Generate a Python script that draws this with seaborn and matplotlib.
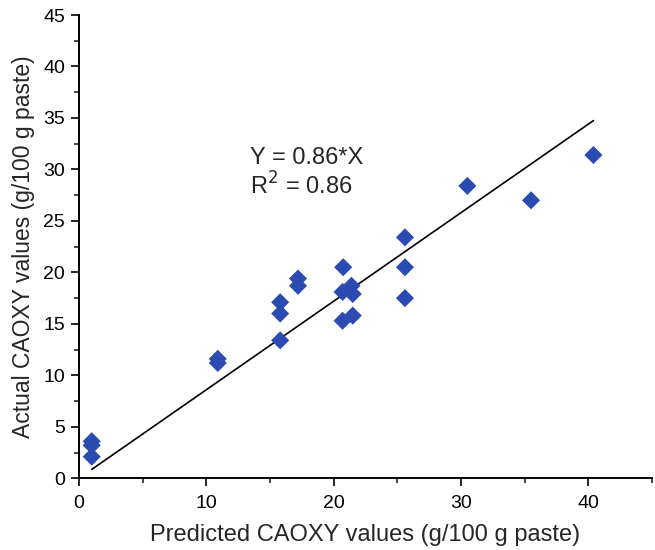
import matplotlib
matplotlib.use("Agg")
import matplotlib.pyplot as plt
import seaborn as sns
import pandas as pd
from matplotlib.ticker import MultipleLocator

sns.set_style("ticks")
plt.rcParams['font.family'] = ['Liberation Sans', 'DejaVu Sans']

# Data
predicted = [1.0, 1.0, 1.0, 10.9, 10.9, 15.8, 15.8, 15.8, 17.2, 17.2,
             20.75, 20.7, 20.7, 21.4, 21.5, 21.5, 25.6, 25.6, 25.6,
             30.5, 35.5, 40.4]
actual = [3.6, 3.2, 2.1, 11.6, 11.2, 17.1, 16.0, 13.4, 19.4, 18.7,
          20.5, 18.1, 15.3, 18.7, 17.9, 15.8, 23.4, 20.5, 17.5,
          28.4, 27.0, 31.4]
slope = 0.86
r2 = 0.86
fit_x = [1.0, 40.4]

df = pd.DataFrame({"predicted": predicted, "actual": actual})
fit_df = pd.DataFrame({"x": fit_x, "y": [slope * v for v in fit_x]})

fig = plt.figure(figsize=(6.55, 5.5), dpi=100)
ax = fig.add_axes([0.1206, 0.1304, 0.8748, 0.8423])

sns.lineplot(data=fit_df, x="x", y="y", ax=ax, color="black", linewidth=1.2, zorder=2)
sns.scatterplot(data=df, x="predicted", y="actual", ax=ax, marker="D",
                s=85, color="#2b4bb2", edgecolor="none", linewidth=0, zorder=3)

ax.set_xlim(0, 45)
ax.set_ylim(0, 45)
ax.xaxis.set_major_locator(MultipleLocator(10))
ax.xaxis.set_minor_locator(MultipleLocator(5))
ax.yaxis.set_major_locator(MultipleLocator(5))
ax.yaxis.set_minor_locator(MultipleLocator(2.5))
ax.tick_params(axis="both", which="major", direction="out", length=6, width=1.2,
               labelsize=14, colors="black")
ax.tick_params(axis="x", which="major", pad=6)
ax.tick_params(axis="y", which="major", pad=4)
ax.tick_params(axis="both", which="minor", direction="out", length=3.6, width=1.2)

for s in ["top", "right"]:
    ax.spines[s].set_visible(False)
for s in ["left", "bottom"]:
    ax.spines[s].set_linewidth(1.4)
    ax.spines[s].set_color("black")

ax.set_xlabel("Predicted CAOXY values (g/100 g paste)", fontsize=17, labelpad=9)
ax.set_ylabel("Actual CAOXY values (g/100 g paste)", fontsize=16.5, labelpad=6)

ax.text(13.45, 30.5, "Y = 0.86*X", fontsize=17, ha="left", va="baseline")
ax.text(13.45, 27.6, "R$^2$ = 0.86", fontsize=17, ha="left", va="baseline")

fig.savefig("out.png", dpi=100)
